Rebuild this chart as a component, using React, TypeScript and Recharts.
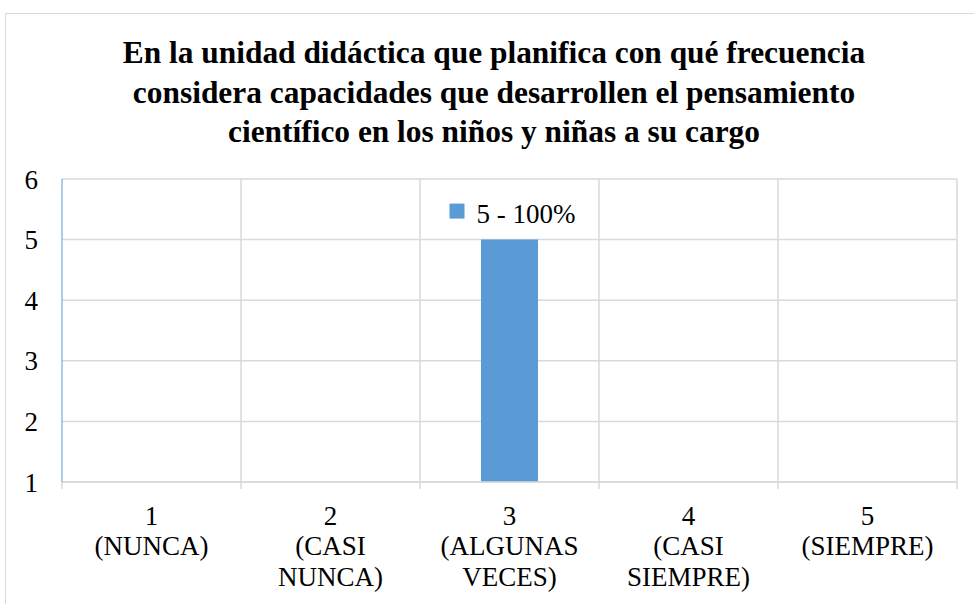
import React from 'react';
import { BarChart, Bar, XAxis, YAxis, CartesianGrid, LabelList } from 'recharts';

const titleLines = [
  'En la unidad didáctica que planifica con qué frecuencia',
  'considera capacidades que desarrollen el pensamiento',
  'científico en los niños y niñas a su cargo',
];

const categoryNumbers = ['1', '2', '3', '4', '5'];
const categoryLabels = [
  ['(NUNCA)'],
  ['(CASI', 'NUNCA)'],
  ['(ALGUNAS', 'VECES)'],
  ['(CASI', 'SIEMPRE)'],
  ['(SIEMPRE)'],
];
const counts = [0, 0, 5, 0, 0];
const yTicks = [1, 2, 3, 4, 5, 6];

const total = counts.reduce((a, b) => a + b, 0);

// zero answers get no bar (axis starts at 1)
const chartData = categoryNumbers.map((n, i) => ({
  name: n,
  lines: categoryLabels[i],
  value: counts[i] > 0 ? counts[i] : null,
}));

const FONT = 'Liberation Serif';
const BLUE = '#5b9bd5';
const GRID = '#d9d9d9';
const FS = 27;

const W = 974;
const H = 604;
const MARGIN = { top: 179, right: 17, bottom: 12, left: 12 };
const Y_W = 50;
const PLOT_W = W - MARGIN.left - MARGIN.right - Y_W;
const BAND = PLOT_W / categoryNumbers.length;

const XTick = (props: any) => {
  const { x, y, payload, index } = props;
  const row = chartData.find((d) => d.name === payload.value);
  const lines = [payload.value, ...(row ? row.lines : [])];
  return (
    <g>
      <line x1={x - BAND / 2} x2={x - BAND / 2} y1={y} y2={y + 7} stroke={GRID} strokeWidth={1.5} />
      {index === categoryNumbers.length - 1 && (
        <line x1={x + BAND / 2} x2={x + BAND / 2} y1={y} y2={y + 7} stroke={GRID} strokeWidth={1.5} />
      )}
      {lines.map((l: string, i: number) => (
        <text key={i} x={x} y={y + 42.5 + i * 30.5} textAnchor="middle" fontFamily={FONT} fontSize={FS} fill="#000">
          {l}
        </text>
      ))}
    </g>
  );
};

const BarLabel = (props: any) => {
  const { x, y, width, value } = props;
  if (value == null) return null;
  const cx = x + width / 2;
  const pct = total ? Math.round((Number(value) / total) * 100) : 0;
  return (
    <g>
      <rect x={cx - 60} y={y - 36} width={15} height={15} fill={BLUE} />
      <text x={cx - 33} y={y - 17} fontFamily={FONT} fontSize={FS} fill="#000">
        {`${value} - ${pct}%`}
      </text>
    </g>
  );
};

export default function App() {
  return (
    <div style={{ position: 'relative', width: W, height: H, overflow: 'hidden', background: '#fff' }}>
      <style>{'body{margin:0}'}</style>
      <div
        style={{
          position: 'absolute',
          left: 5,
          top: 13,
          width: W + 20,
          height: H + 20,
          border: `1.5px solid ${GRID}`,
        }}
      />
      <div
        style={{
          position: 'absolute',
          top: 33,
          left: 7,
          width: W,
          textAlign: 'center',
          fontFamily: FONT,
          fontWeight: 'bold',
          fontSize: 31.4,
          lineHeight: '39.5px',
          color: '#000',
        }}
      >
        {titleLines.map((t, i) => (
          <div key={i}>{t}</div>
        ))}
      </div>
      <BarChart width={W} height={H} data={chartData} margin={MARGIN} style={{ position: 'absolute', left: 0, top: 0 }}>
        <CartesianGrid
          stroke={GRID}
          strokeWidth={1.5}
          verticalCoordinatesGenerator={({ offset }: any) =>
            categoryNumbers.map((_, i) => offset.left + (i + 1) * (offset.width / categoryNumbers.length))
          }
        />
        <XAxis
          dataKey="name"
          height={110}
          tick={<XTick />}
          tickLine={false}
          tickSize={0}
          tickMargin={0}
          axisLine={{ stroke: GRID, strokeWidth: 1.5 }}
          interval={0}
        />
        <YAxis
          width={Y_W}
          domain={[1, 6]}
          ticks={yTicks}
          allowDataOverflow
          tickLine={false}
          tickSize={0}
          tickMargin={24}
          axisLine={{ stroke: BLUE, strokeWidth: 1 }}
          tick={{ fontFamily: FONT, fontSize: FS, fill: '#000' }}
        />
        <Bar dataKey="value" fill={BLUE} barSize={57} isAnimationActive={false}>
          <LabelList dataKey="value" content={<BarLabel />} />
        </Bar>
      </BarChart>
    </div>
  );
}
